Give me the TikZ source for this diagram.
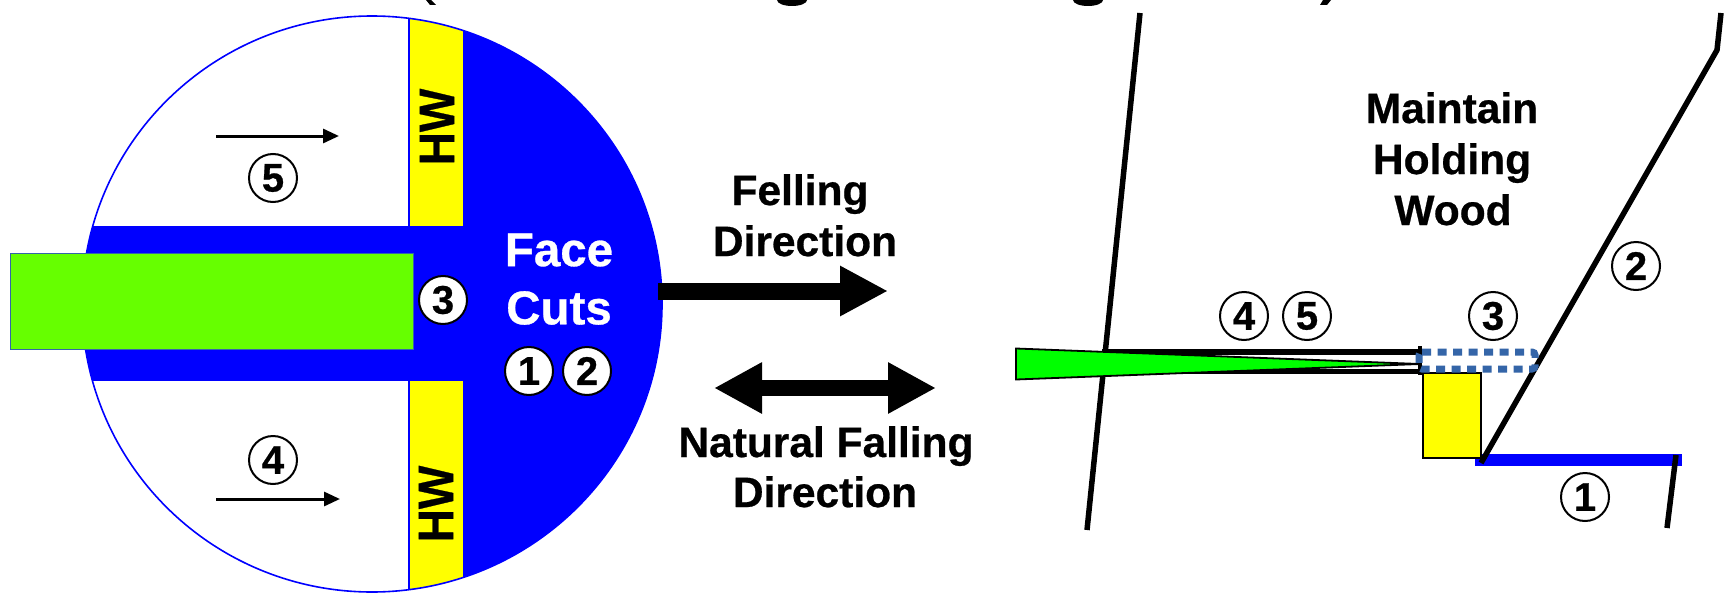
\documentclass[tikz,border=0pt]{standalone}
\usepackage{fontspec}
\setmainfont{Liberation Sans}[BoldFeatures={FakeBold=0.6}]
\usetikzlibrary{arrows.meta}
\definecolor{cutblue}{RGB}{0,0,255}
\definecolor{hwyellow}{RGB}{255,255,0}
\definecolor{wedgelime}{RGB}{102,255,0}
\definecolor{wedgegreen}{RGB}{0,255,0}
\definecolor{dotblue}{RGB}{52,101,168}
\tikzset{
  x=1pt,y=-1pt,
  num/.style={circle,draw=black,line width=2pt,fill=white,minimum size=48pt,inner sep=0pt,font=\fontsize{40}{40}\selectfont\bfseries},
  lab/.style={font=\fontsize{42.5}{42.5}\selectfont\bfseries,inner sep=0pt,text=black,anchor=base},
  facelab/.style={font=\fontsize{47.5}{47.5}\selectfont\bfseries,inner sep=0pt,text=white},
  hwlab/.style={font=\fontsize{50}{50}\selectfont\bfseries,inner sep=0pt,rotate=90,xscale=0.92},
  thin arrow/.style={line width=3pt,-{Triangle[length=16pt,width=14pt]}},
  heavy/.style={line width=5.5pt,black},
  blockarrow/.style={line width=17pt,-{Triangle[length=48pt,width=47pt]}},
  blockdouble/.style={line width=16pt,{Triangle[length=48pt,width=48pt]}-{Triangle[length=48pt,width=48pt]}},
}
\begin{document}
\begin{tikzpicture}
\useasboundingbox (0,0) rectangle (1731,594);
\fill[white] (0,0) rectangle (1731,594);
% cropped title remnants
\fill[black] (426,0) -- (431,0) -- (436,5) -- (430,5) -- cycle;
\fill[black] (1323,0) -- (1331,0) -- (1327,5) -- (1320,5) -- cycle;
\fill[black] (777,0) arc [start angle=180,end angle=360,x radius=15,y radius=-6];
\fill[black] (1073,0) arc [start angle=180,end angle=360,x radius=15,y radius=-6];
% stump
\begin{scope}
 \clip (372,304) ellipse [x radius=290,y radius=288];
 \fill[cutblue] (463,0) rectangle (700,600);
 \fill[hwyellow] (409,0) rectangle (463,600);
 \fill[cutblue] (0,226) rectangle (463,381);
 \draw[cutblue,line width=1.6pt] (409,0) -- (409,226) (409,381) -- (409,600);
\end{scope}
\draw[cutblue,line width=1.6pt] (372,304) ellipse [x radius=290,y radius=288];
\fill[draw=dotblue,line width=1pt,fill=wedgelime] (10,253) rectangle (413,349);
\node[hwlab] (hwa) at (437,127) {HW};
\node[hwlab] (hwb) at (436,504) {HW};
\coordinate (a5s) at (216,136); \coordinate (a5e) at (339,136);
\coordinate (a4s) at (216,499); \coordinate (a4e) at (340,499);
\draw[thin arrow] (a5s) -- (a5e);
\draw[thin arrow] (a4s) -- (a4e);
\node[num] (n5) at (273,178) {5};
\node[num] (n4) at (273,460) {4};
\node[num] (n3) at (443,300) {3};
\node[num] (n1) at (529,371) {1};
\node[num] (n2) at (587,371) {2};
\node[facelab] (face) at (559,250) {Face};
\node[facelab] (cuts) at (559,308) {Cuts};
% centre
\coordinate (f1) at (658,291); \coordinate (f2) at (888,291);
\draw[blockarrow] (f1) -- (f2);
\coordinate (d1) at (714,388); \coordinate (d2) at (936,388);
\draw[blockdouble] (d1) -- (d2);
\node[lab] (felling) at (800,205) {Felling};
\node[lab] (dir1) at (805,256) {Direction};
\node[lab] (nat) at (826,457) {Natural Falling};
\node[lab] (dir2) at (825,507) {Direction};
% side view
\coordinate (t1) at (1140,13); \coordinate (t2) at (1087,530);
\draw[heavy] (t1) -- (t2);
\fill[cutblue] (1475,454) rectangle (1682,466);
\coordinate (s1) at (1676,455); \coordinate (s2) at (1667,528);
\draw[heavy] (s1) -- (s2);
\fill[draw=black,line width=2pt,fill=hwyellow] (1423,373) rectangle (1481,458);
\coordinate (c0) at (1481,463); \coordinate (c1) at (1717,50); \coordinate (c2) at (1721,13);
\draw[heavy,line join=round] (c0) -- (c1) -- (c2);
\draw[line width=6pt] (1102,352) -- (1420,352);
\draw[line width=5.5pt] (1102,371.5) -- (1420,371.5);
\draw[line width=4pt] (1420,346) -- (1420,375);
\fill[draw=black,line width=1.8pt,fill=wedgegreen] (1016,348.5) -- (1420,364) -- (1016,379.5) -- cycle;
\draw[dotblue,line width=7pt,dash pattern=on 9pt off 6.5pt,rounded corners=3pt] (1419,352) -- (1535,352) -- (1535,369) -- (1419,369) -- cycle;
\node[lab] (m1) at (1452,123) {Maintain};
\node[lab] (m2) at (1452,174) {Holding};
\node[lab] (m3) at (1453,225) {Wood};
\node[num] (r4) at (1244,316) {4};
\node[num] (r5) at (1307,316) {5};
\node[num] (r3) at (1493,316) {3};
\node[num] (r2) at (1636,266) {2};
\node[num] (r1) at (1585,497) {1};
\end{tikzpicture}
\end{document}
